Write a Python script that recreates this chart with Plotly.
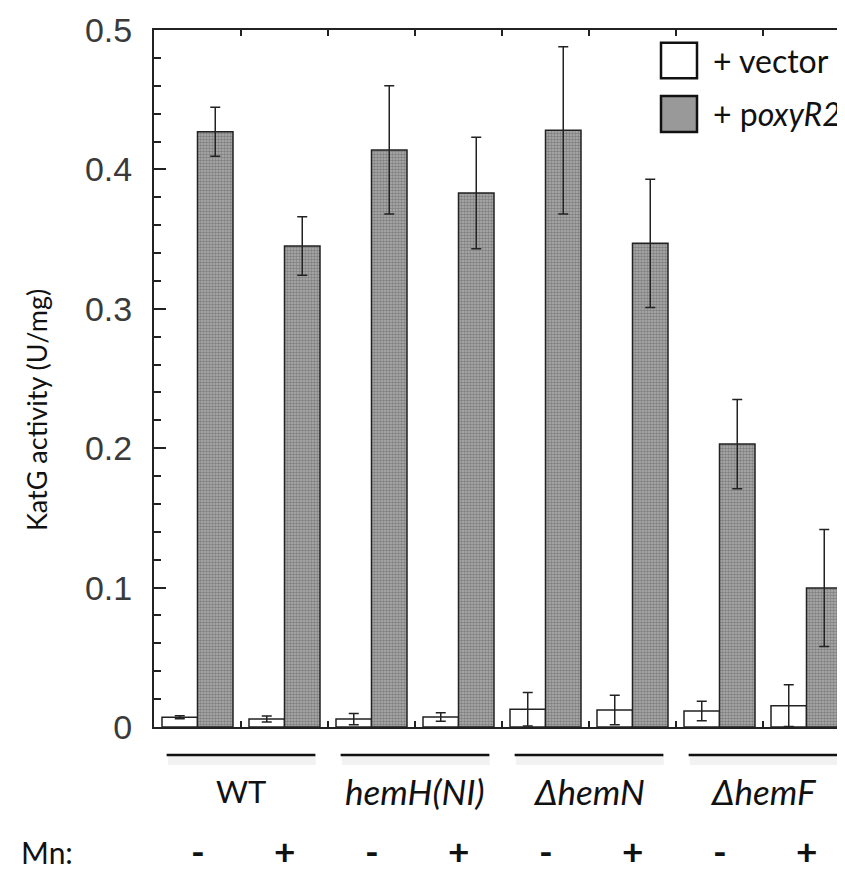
import plotly.graph_objects as go

# ---------------- data ----------------
categories = ["WT -", "WT +", "hemH(NI) -", "hemH(NI) +",
              "ΔhemN -", "ΔhemN +", "ΔhemF -", "ΔhemF +"]
mn_labels = ["-", "+", "-", "+", "-", "+", "-", "+"]
group_labels = ["WT", "<i>hemH(NI)</i>", "<i>ΔhemN</i>", "<i>ΔhemF</i>"]
vector_vals = [0.007, 0.0057, 0.0057, 0.0072, 0.0127, 0.0122, 0.0115, 0.0153]
vector_err = [0.001, 0.0022, 0.004, 0.003, 0.012, 0.0105, 0.007, 0.015]
oxy_vals = [0.427, 0.345, 0.414, 0.383, 0.428, 0.347, 0.203, 0.0997]
oxy_err = [0.0175, 0.021, 0.046, 0.040, 0.060, 0.046, 0.032, 0.042]
y_tick_vals = [0, 0.1, 0.2, 0.3, 0.4, 0.5]
y_tick_text = ["0", "0.1", "0.2", "0.3", "0.4", "0.5"]
series_names = ["+ vector", "+ p<i>oxyR2</i>"]

# ---------------- layout constants ----------------
# the page body has an 8px margin, so the figure is shrunk by 8px
OFF = 8
W, H = 845 - OFF, 872 - OFF
PLOT_L, PLOT_T, PLOT_B = 154, 30, 727          # screen pixels
ML, MR, MT = PLOT_L - OFF, 0, PLOT_T - OFF
MB = H - (PLOT_B - OFF)
PW = W - ML - MR
PH = H - MT - MB
CAT_PX = 87.0
x_idx = list(range(len(categories)))
x_range = [-0.5, -0.5 + PW / CAT_PX]


def py(pix):  # screen pixel y -> paper y
    return (PLOT_B - pix) / PH


def px(pix):  # screen pixel x -> paper x
    return (pix - PLOT_L) / PW


LINE = "#222222"
FONT = "Lato"

fig = go.Figure()

fig.add_trace(go.Bar(
    x=x_idx, y=vector_vals, name=series_names[0],
    marker=dict(color="white", line=dict(color=LINE, width=1.5)),
    error_y=dict(type="data", array=vector_err, visible=True,
                 color=LINE, thickness=1.5, width=5),
    showlegend=False,
))
fig.add_trace(go.Bar(
    x=x_idx, y=oxy_vals, name=series_names[1],
    marker=dict(color="#9a9a9a", line=dict(color=LINE, width=1.5),
                pattern=dict(shape=".", fgcolor="#505050", bgcolor="#b0b0b0",
                             size=3, solidity=0.55)),
    error_y=dict(type="data", array=oxy_err, visible=True,
                 color=LINE, thickness=1.5, width=5),
    showlegend=False,
))
# dummy trace for the mirrored (top/right) tick axes
fig.add_trace(go.Scatter(x=[], y=[], xaxis="x2", yaxis="y2",
                         showlegend=False, hoverinfo="skip"))

boundaries = [i + 0.5 for i in range(len(categories))]

fig.update_layout(
    width=W, height=H,
    margin=dict(l=ML, r=MR, t=MT, b=MB, pad=0),
    paper_bgcolor="white", plot_bgcolor="white",
    barmode="group", bargap=0.184, bargroupgap=0,
    xaxis=dict(range=x_range, showgrid=False, zeroline=False,
               showline=True, linecolor=LINE, linewidth=2,
               ticks="inside", ticklen=6, tickwidth=1.5, tickcolor=LINE,
               tickvals=boundaries, showticklabels=False),
    xaxis2=dict(range=x_range, overlaying="x", side="top", anchor="y2",
                showgrid=False, zeroline=False,
                showline=True, linecolor=LINE, linewidth=2,
                ticks="inside", ticklen=6, tickwidth=1.5, tickcolor=LINE,
                tickvals=boundaries, showticklabels=False),
    yaxis=dict(range=[0, 0.5], showgrid=False, zeroline=False,
               showline=True, linecolor=LINE, linewidth=2,
               ticks="inside", ticklen=12, tickwidth=1.5, tickcolor=LINE,
               tickvals=y_tick_vals, ticktext=y_tick_text,
               tickfont=dict(family="Liberation Sans", size=34, color="#3a3a3a"),
               ticklabelstandoff=13,
               minor=dict(dtick=0.02, ticks="inside", ticklen=7,
                          tickwidth=1.5, tickcolor=LINE, showgrid=False)),
    yaxis2=dict(range=[0, 0.5], overlaying="y", side="right", anchor="x2",
                showgrid=False, zeroline=False, showline=False,
                ticks="inside", ticklen=7, tickwidth=1.5, tickcolor=LINE,
                tickvals=y_tick_vals, showticklabels=False,
                minor=dict(dtick=0.02, ticks="inside", ticklen=2,
                           tickwidth=1.5, tickcolor=LINE, showgrid=False)),
    showlegend=False,
)

shapes = []
annotations = []

# group underlines (with soft shadow) and group labels
for g, lab in enumerate(group_labels):
    c = 2 * g + 0.5
    shapes.append(dict(type="line", xref="x", yref="paper",
                       x0=c - 0.84, x1=c + 0.86, y0=py(760), y1=py(760),
                       line=dict(color="rgba(0,0,0,0.05)", width=10), layer="above"))
    shapes.append(dict(type="line", xref="x", yref="paper",
                       x0=c - 0.855, x1=c + 0.855, y0=py(755), y1=py(755),
                       line=dict(color="#111111", width=2.5), layer="above"))
    size = 31 if g == 0 else 35
    annotations.append(dict(text=lab, xref="x", yref="paper", x=c, y=py(791),
                            showarrow=False, xanchor="center", yanchor="middle",
                            font=dict(family=FONT, size=size, color="#111111")))

# Mn row
annotations.append(dict(text="Mn:", xref="paper", yref="paper", x=px(47), y=py(852),
                        showarrow=False, xanchor="center", yanchor="middle",
                        font=dict(family=FONT, size=30, color="#111111")))
for i, m in enumerate(mn_labels):
    annotations.append(dict(text="<b>%s</b>" % m, xref="x", yref="paper",
                            x=x_idx[i], y=py(850),
                            showarrow=False, xanchor="center", yanchor="middle",
                            font=dict(family=FONT, size=37, color="#111111")))

# y-axis title
annotations.append(dict(text="KatG activity (U/mg)", xref="paper", yref="paper",
                        x=px(36), y=py(410), textangle=-90, showarrow=False,
                        xanchor="center", yanchor="middle",
                        font=dict(family=FONT, size=27, color="#111111")))

# legend
legend_fills = ["white", "#999999"]
legend_y = [(42.7, 78.3), (96, 132)]
for name, fill, (y0, y1) in zip(series_names, legend_fills, legend_y):
    shapes.append(dict(type="rect", xref="paper", yref="paper",
                       x0=px(661), x1=px(697), y0=py(y1), y1=py(y0),
                       fillcolor=fill, line=dict(color="#111111", width=2.5),
                       layer="above"))
    annotations.append(dict(text=name, xref="paper", yref="paper",
                            x=px(711), y=py((y0 + y1) / 2),
                            showarrow=False, xanchor="left", yanchor="middle",
                            font=dict(family=FONT, size=32, color="#111111")))

fig.update_layout(shapes=shapes, annotations=annotations)

fig.write_html("out.html")
